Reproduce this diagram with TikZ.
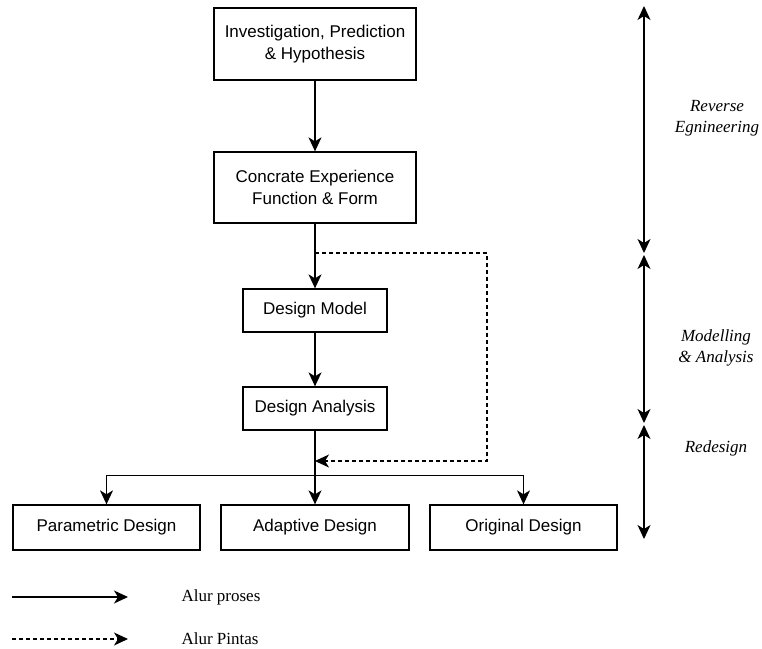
\documentclass[tikz,border=0pt]{standalone}
\usepackage{fontspec}
\setmainfont{Liberation Serif}
\newfontfamily\boxfont{Liberation Sans}
\usetikzlibrary{arrows.meta}
\tikzset{
  myhead/.tip={Stealth[length=14pt,width=13pt,inset=4pt]}
}
\begin{document}
\begin{tikzpicture}[x=1pt,y=-1pt,
  flow/.style={line width=1.3pt,-myhead},
  dflow/.style={line width=1.2pt,-myhead,dash pattern=on 4pt off 3pt},
  both/.style={line width=1.3pt,myhead-myhead},
  stepbox/.style={draw,line width=1.3pt,rectangle,inner sep=0pt,align=center,
    font=\boxfont\fontsize{17}{21.5}\selectfont},
  side/.style={align=center,font=\itshape\fontsize{17}{21}\selectfont},
  legend/.style={anchor=west,font=\fontsize{17}{18}\selectfont}]
\useasboundingbox (0,0) rectangle (762,648);
\node[stepbox,minimum width=202pt,minimum height=72pt] (inv) at (315,44) {Investigation, Prediction\\\& Hypothesis};
\node[stepbox,minimum width=202pt,minimum height=71pt] (conc) at (315,187.5) {Concrate Experience\\Function \& Form};
\node[stepbox,minimum width=144pt,minimum height=43pt] (model) at (315,310.5) {Design Model};
\node[stepbox,minimum width=144pt,minimum height=43pt] (anal) at (315,408.5) {Design Analysis};
\node[stepbox,minimum width=187pt,minimum height=45pt] (par) at (106.5,527.5) {Parametric Design};
\node[stepbox,minimum width=188pt,minimum height=45pt] (ada) at (315,527.5) {Adaptive Design};
\node[stepbox,minimum width=187pt,minimum height=45pt] (ori) at (523.5,527.5) {Original Design};

\draw[flow] (inv) -- (conc);
\draw[flow] (conc) -- (model);
\draw[flow] (model) -- (anal);
\coordinate (br) at (315,475.5);
\coordinate (dsplit) at (315,253);
\coordinate (dend) at (315,461);
\draw[line width=1.3pt] (anal.south) -- (br);
\draw[flow] (br) -- (ada);
\draw[flow] (br) -| (par);
\draw[flow] (br) -| (ori);
\draw[dflow] (dsplit) -- (487,253) -- (487,461) -- (dend);

% side arrows
\coordinate (s1) at (644,6);
\coordinate (s2) at (644,253);
\coordinate (s3) at (644,255);
\coordinate (s4) at (644,423);
\coordinate (s5) at (644,425);
\coordinate (s6) at (644,539);
\draw[both] (s1) -- (s2);
\draw[both] (s3) -- (s4);
\draw[both] (s5) -- (s6);
\node[side] (re) at (717,118) {Reverse\\Egnineering};
\node[side] (ma) at (716,348) {Modelling\\\& Analysis};
\node[side] (rd) at (716,448) {Redesign};

% legend
\coordinate (l1a) at (12,597);
\coordinate (l1b) at (128,597);
\coordinate (l2a) at (12,639);
\coordinate (l2b) at (128,639);
\draw[flow] (l1a) -- (l1b);
\draw[dflow] (l2a) -- (l2b);
\node[legend] (lp) at (178,597) {Alur proses};
\node[legend] (lq) at (178,639) {Alur Pintas};
\end{tikzpicture}
\end{document}
